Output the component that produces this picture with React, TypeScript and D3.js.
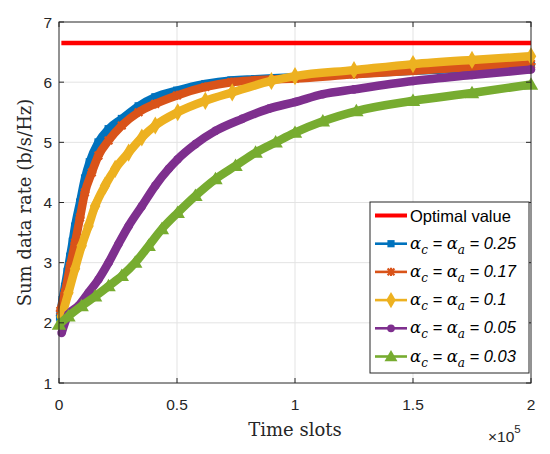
import { useMemo } from 'react';
import * as d3 from 'd3';

type Pt = [number, number];

// time slots in units of 1e5, sum rate in b/s/Hz
const optimalValue = 6.65;
const optimalSpan: number[] = [0.01, 2.0];

const rate025: Pt[] = [
  [0.004, 2.1], [0.015, 2.38], [0.025, 2.6], [0.036, 2.85], [0.047, 3.1], [0.058, 3.35],
  [0.068, 3.6], [0.089, 4.0], [0.11, 4.4], [0.13, 4.67], [0.167, 5.0], [0.21, 5.22],
  [0.266, 5.39], [0.337, 5.6], [0.408, 5.75], [0.5, 5.86], [0.62, 5.97], [0.73, 6.03],
  [0.83, 6.05], [1.0, 6.08], [1.25, 6.14], [1.5, 6.19], [1.75, 6.23], [2.0, 6.27],
];
const rate017: Pt[] = [
  [0.006, 2.2], [0.025, 2.5], [0.047, 2.94], [0.068, 3.33], [0.089, 3.75], [0.11, 4.17],
  [0.139, 4.5], [0.167, 4.78], [0.21, 5.03], [0.266, 5.28], [0.337, 5.5], [0.408, 5.64],
  [0.5, 5.78], [0.62, 5.92], [0.73, 6.0], [0.83, 6.03], [1.0, 6.06], [1.25, 6.13],
  [1.5, 6.19], [1.75, 6.25], [2.0, 6.3],
];
const rate010: Pt[] = [
  [0.011, 2.1], [0.04, 2.5], [0.068, 2.9], [0.096, 3.28], [0.125, 3.61], [0.153, 3.94],
  [0.195, 4.28], [0.238, 4.56], [0.295, 4.83], [0.351, 5.08], [0.408, 5.28], [0.503, 5.5],
  [0.62, 5.69], [0.734, 5.83], [0.9, 6.02], [1.0, 6.1], [1.25, 6.2], [1.5, 6.3],
  [1.75, 6.37], [2.0, 6.43],
];
const rate005: Pt[] = [
  [0.011, 1.83], [0.04, 2.14], [0.082, 2.28], [0.125, 2.5], [0.167, 2.72], [0.21, 3.0],
  [0.252, 3.31], [0.295, 3.61], [0.351, 3.94], [0.408, 4.28], [0.465, 4.56], [0.503, 4.72],
  [0.578, 4.97], [0.663, 5.19], [0.776, 5.39], [0.89, 5.56], [1.0, 5.67], [1.118, 5.8],
  [1.25, 5.88], [1.5, 6.02], [1.75, 6.12], [2.0, 6.21],
];
const rate003: Pt[] = [
  [0.0, 1.97], [0.04, 2.11], [0.096, 2.28], [0.153, 2.44], [0.21, 2.61], [0.266, 2.78],
  [0.323, 3.0], [0.38, 3.28], [0.436, 3.56], [0.503, 3.83], [0.578, 4.11], [0.663, 4.39],
  [0.748, 4.61], [0.833, 4.83], [0.918, 5.0], [1.0, 5.16], [1.118, 5.35], [1.26, 5.52],
  [1.5, 5.69], [1.75, 5.82], [2.0, 5.96],
];

const alphaLabels = ['0.25', '0.17', '0.1', '0.05', '0.03'];
const seriesColors = ['#0072BD', '#D95319', '#EDB120', '#7E2F8E', '#77AC30'];
const seriesMarkers = ['square', 'star', 'diamond', 'circle', 'triangle'];
const seriesData = [rate025, rate017, rate010, rate005, rate003];

const xTicks = [0, 0.5, 1, 1.5, 2];
const yTicks = [1, 2, 3, 4, 5, 6, 7];

const W = 550;
const H = 454;
const margin = { top: 22, right: 19, bottom: 71, left: 59 };
const sans = '"Liberation Sans", Arial, sans-serif';
const serif = '"DejaVu Serif", serif';
const axisColor = '#262626';

const Marker = ({ kind, x, y, color, s = 1 }: { kind: string; x: number; y: number; color: string; s?: number }) => {
  if (kind === 'square') return <rect x={x - 4 * s} y={y - 4 * s} width={8 * s} height={8 * s} fill={color} />;
  if (kind === 'circle') return <circle cx={x} cy={y} r={4.3 * s} fill={color} />;
  if (kind === 'diamond') {
    const d = d3.symbol(d3.symbolDiamond, 95 * s * s)()!;
    return <path d={d} transform={`translate(${x},${y})`} fill={color} />;
  }
  if (kind === 'triangle') {
    const d = d3.symbol(d3.symbolTriangle, 90 * s * s)()!;
    return <path d={d} transform={`translate(${x},${y + 1})`} fill={color} />;
  }
  // asterisk-like marker
  const r = 3.8 * s;
  return (
    <path
      d={`M${x - r},${y - r}L${x + r},${y + r}M${x - r},${y + r}L${x + r},${y - r}M${x - r - 0.8},${y}L${x + r + 0.8},${y}M${x},${y - r - 0.8}L${x},${y + r + 0.8}`}
      stroke={color}
      strokeWidth={2.2}
      fill="none"
    />
  );
};

export default function App() {
  const iw = W - margin.left - margin.right;
  const ih = H - margin.top - margin.bottom;

  const x = useMemo(() => d3.scaleLinear().domain([0, 2]).range([margin.left, margin.left + iw]), [iw]);
  const y = useMemo(() => d3.scaleLinear().domain([1, 7]).range([margin.top + ih, margin.top]), [ih]);

  const line = d3
    .line<Pt>()
    .x((d) => x(d[0]))
    .y((d) => y(d[1]))
    .curve(d3.curveMonotoneX);

  const x0 = margin.left;
  const x1 = margin.left + iw;
  const y0 = margin.top + ih;
  const y1 = margin.top;

  // legend
  const lgX = 370;
  const lgY = 202;
  const lgW = 159;
  const lgH = 171;
  const rowY = (i: number) => 215.5 + i * 28.2;

  return (
    <svg width={W} height={H} style={{ position: 'absolute', left: 0, top: 0, background: '#fff' }}>
      <rect x={0} y={0} width={W} height={H} fill="#fff" />
      {/* grid */}
      <g stroke="#e3e3e3" strokeWidth={1}>
        {xTicks.slice(1, -1).map((t) => (
          <line key={`gx${t}`} x1={x(t)} x2={x(t)} y1={y0} y2={y1} />
        ))}
        {yTicks.slice(1, -1).map((t) => (
          <line key={`gy${t}`} x1={x0} x2={x1} y1={y(t)} y2={y(t)} />
        ))}
      </g>

      {/* optimal */}
      <line
        x1={x(optimalSpan[0])}
        x2={x(optimalSpan[1])}
        y1={y(optimalValue)}
        y2={y(optimalValue)}
        stroke="#FF0000"
        strokeWidth={4.5}
      />

      {/* series bands */}
      {seriesData.map((data, i) => (
        <g key={`s${i}`}>
          <path
            d={line(data)!}
            fill="none"
            stroke={seriesColors[i]}
            strokeWidth={8.5}
            strokeLinejoin="round"
          />
          {data.map((d, j) => (
            <Marker key={j} kind={seriesMarkers[i]} x={x(d[0])} y={y(d[1])} color={seriesColors[i]} />
          ))}
        </g>
      ))}

      {/* axes box */}
      <rect x={x0} y={y1} width={iw} height={ih} fill="none" stroke={axisColor} strokeWidth={1} />
      <g stroke={axisColor} strokeWidth={1}>
        {xTicks.map((t) => (
          <g key={`tx${t}`}>
            <line x1={x(t)} x2={x(t)} y1={y0} y2={y0 - 5} />
            <line x1={x(t)} x2={x(t)} y1={y1} y2={y1 + 5} />
          </g>
        ))}
        {yTicks.map((t) => (
          <g key={`ty${t}`}>
            <line x1={x0} x2={x0 + 5} y1={y(t)} y2={y(t)} />
            <line x1={x1} x2={x1 - 5} y1={y(t)} y2={y(t)} />
          </g>
        ))}
      </g>

      {/* tick labels */}
      <g fontFamily={sans} fontSize={15.5} fill={axisColor}>
        {xTicks.map((t) => (
          <text key={`lx${t}`} x={x(t)} y={y0 + 27} textAnchor="middle">
            {d3.format('~g')(t)}
          </text>
        ))}
        {yTicks.map((t) => (
          <text key={`ly${t}`} x={x0 - 7} y={y(t) + 5.5} textAnchor="end">
            {t}
          </text>
        ))}
        <text x={x1 - 43} y={442} fontSize={15.5}>
          ×10
          <tspan dy={-9} fontSize={11.5}>
            5
          </tspan>
        </text>
      </g>

      {/* axis titles */}
      <text x={(x0 + x1) / 2} y={436} textAnchor="middle" fontFamily={serif} fontSize={18} fill={axisColor}>
        Time slots
      </text>
      <text
        transform={`translate(31,${(y0 + y1) / 2}) rotate(-90)`}
        textAnchor="middle"
        fontFamily={serif}
        fontSize={18}
        fill={axisColor}
      >
        Sum data rate (b/s/Hz)
      </text>

      {/* legend */}
      <rect x={lgX} y={lgY} width={lgW} height={lgH} fill="#fff" stroke={axisColor} strokeWidth={1} />
      <line x1={375} x2={407} y1={rowY(0)} y2={rowY(0)} stroke="#FF0000" strokeWidth={4} />
      <text x={410} y={rowY(0) + 6} fontFamily={sans} fontSize={16.5} fill="#000">
        Optimal value
      </text>
      {alphaLabels.map((lab, i) => {
        const ry = rowY(i + 1);
        return (
          <g key={`lg${i}`}>
            <line x1={375} x2={407} y1={ry} y2={ry} stroke={seriesColors[i]} strokeWidth={2.6} />
            <Marker kind={seriesMarkers[i]} x={391} y={ry} color={seriesColors[i]} s={0.9} />
            <text x={410} y={ry + 5} fontSize={16.5} fill="#000">
              <tspan fontFamily={serif} fontStyle="italic">α</tspan>
              <tspan fontFamily={serif} fontStyle="italic" fontSize={12} dy={5}>c</tspan>
              <tspan fontFamily={sans} fontStyle="italic" dy={-5}>{' = '}</tspan>
              <tspan fontFamily={serif} fontStyle="italic">α</tspan>
              <tspan fontFamily={serif} fontStyle="italic" fontSize={12} dy={5}>a</tspan>
              <tspan fontFamily={sans} fontStyle="italic" dy={-5}>{` = ${lab}`}</tspan>
            </text>
          </g>
        );
      })}
    </svg>
  );
}
